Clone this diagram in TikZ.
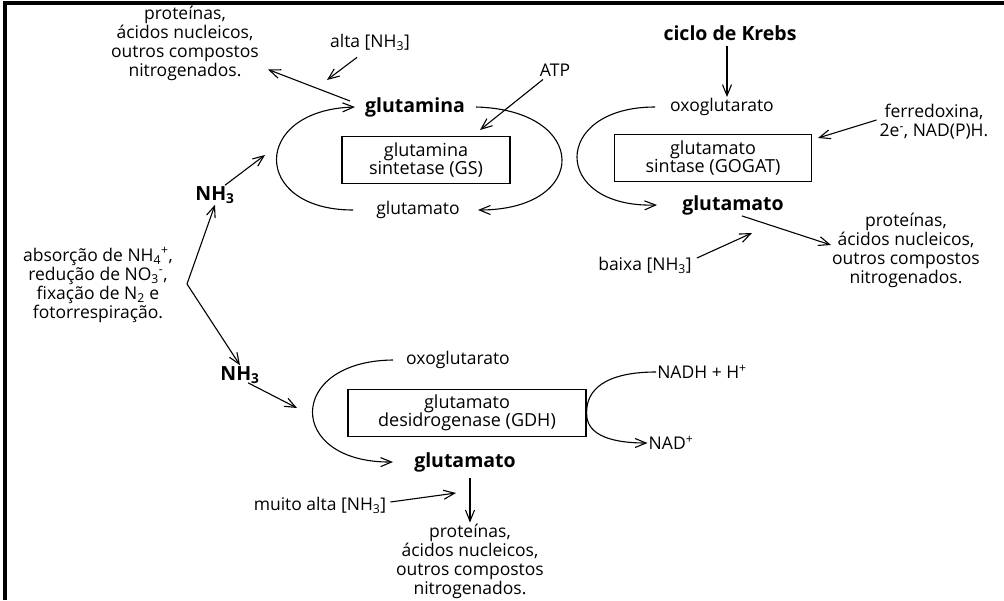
\documentclass[tikz,border=0pt]{standalone}
\usepackage{fontspec}
\setmainfont{Open Sans}
\usetikzlibrary{arrows.meta}

\begin{document}
\begin{tikzpicture}[x=1pt, y=-1pt,
 txt/.style={align=center, inner sep=1pt, font=\fontsize{17.5}{19}\selectfont},
 txtb/.style={txt, font=\fontsize{19.5}{19}\selectfont\bfseries},
 enz/.style={draw, rectangle, line width=1.3pt, align=center, minimum height=47pt, inner sep=2pt, font=\fontsize{18}{18}\selectfont},
 seta/.style={-{Straight Barb[length=11pt, width=9pt]}, line width=1.1pt}
]
\useasboundingbox (0,0) rectangle (1004,600);
% moldura
\draw[line width=3.5pt] (5,600) -- (5,3) -- (1004,3);

% ciclo GS / GOGAT
\node[txt] (protA) at (185,43) {proteínas,\\ácidos nucleicos,\\outros compostos\\nitrogenados.};
\node[txt] (altaA) at (370,42) {alta [NH\textsubscript{3}]};
\node[txtb] (gmina) at (415,107) {glutamina};
\node[txt] (atp) at (555,70) {ATP};
\node[enz, minimum width=168pt] (gs) at (426,160) {glutamina\\sintetase (GS)};
\node[txt] (gmatA) at (418,210) {glutamato};
\node[txtb] (nhA) at (215,195) {NH\textsubscript{3}};
\node[txtb] (krebs) at (730,33) {ciclo de Krebs};
\node[txt] (oxoC) at (722,107) {oxoglutarato};
\node[enz, minimum width=197pt] (gogat) at (713,158) {glutamato\\sintase (GOGAT)};
\node[txt] (ferro) at (934,122) {ferredoxina,\\2e\textsuperscript{-}, NAD(P)H.};
\node[txtb] (gmatC) at (733,205) {glutamato};
\node[txt] (protC) at (906,250) {proteínas,\\ácidos nucleicos,\\outros compostos\\nitrogenados.};
\node[txt] (baixa) at (645,265) {baixa [NH\textsubscript{3}]};

% fontes de NH3
\node[txt] (fontes) at (98,285) {absorção de NH\textsubscript{4}\textsuperscript{+},\\redução de NO\textsubscript{3}\textsuperscript{-},\\fixação de N\textsubscript{2} e\\fotorrespiração.};
\coordinate (vert) at (187,284);

% ciclo GDH
\node[txtb] (nhB) at (240,375) {NH\textsubscript{3}};
\node[txt] (oxoB) at (458,360) {oxoglutarato};
\node[enz, minimum width=238pt] (gdh) at (467,413) {glutamato\\desidrogenase (GDH)};
\node[txtb] (gmatB) at (465,462) {glutamato};
\node[txt] (nadh) at (702,372) {NADH + H\textsuperscript{+}};
\node[txt] (nad) at (671,443) {NAD\textsuperscript{+}};
\node[txt] (muito) at (320,505) {muito alta [NH\textsubscript{3}]};
\node[txt] (protB) at (470,561) {proteínas,\\ácidos nucleicos,\\outros compostos\\nitrogenados.};

% pontas livres
\coordinate (altaTip) at (327,80);
\coordinate (atpTip) at (480,130);
\coordinate (nhATip) at (265,155);
\coordinate (nhBTip) at (297,408);
\coordinate (muitoTip) at (456,493);
\coordinate (baixaTip) at (752,233);
\coordinate (ferroTip) at (818,138);

% setas
\draw[seta] (gmina.west -| 350,0) ++(0,-6) -- ([shift={(8,-12)}]protA.south east);
\draw[seta] (altaA.south -| 357,0) ++(0,6) -- (altaTip);
\draw[seta] (atp.south -| 543,0) ++(0,2) -- (atpTip);
\draw[seta] (nhA.north -| 225,0) ++(0,0) -- (nhATip);
\draw[seta] (vert) -- (nhA.south);
\draw[seta] (vert) -- (nhB.north);
\draw[seta] (nhB.south -| 248,0) ++(0,-2) -- (nhBTip);
\draw[seta] (krebs.south -| 727,0) ++(0,4) -- (oxoC.north -| 727,0);
\draw[seta] (ferro.west) ++(-2,-2) -- (ferroTip);
\draw[seta] (gmatC.south -| 742,0) ++(0,0) -- (protC.west |- 0,245);
\draw[seta] (baixa.east) ++(4,-7) -- (baixaTip);
\draw[seta] (gmatB.south -| 470,0) ++(0,5) -- (protB.north -| 470,0);
\draw[seta] (muito.east) ++(3,-3) -- (muitoTip);

% arcos
\draw[seta] (gmatA.west -| 353,0) .. controls (251,210) and (251,110) .. (gmina.west -| 355,0);
\draw[seta] (gmina.east -| 476,0) .. controls (590,110) and (590,210) .. (gmatA.east -| 478,0);
\draw[seta] (oxoC.west -| 655,0) .. controls (551,107) and (551,208) .. (gmatC.west -| 657,0);
\draw[seta] (oxoB.west -| 393,0) .. controls (286,361) and (286,463) .. (gmatB.west -| 393,0);
\draw[seta] (nadh.west) .. controls (605,372) and (586,390) .. (gdh.east) .. controls (586,432) and (605,443) .. (nad.west);
\end{tikzpicture}
\end{document}
